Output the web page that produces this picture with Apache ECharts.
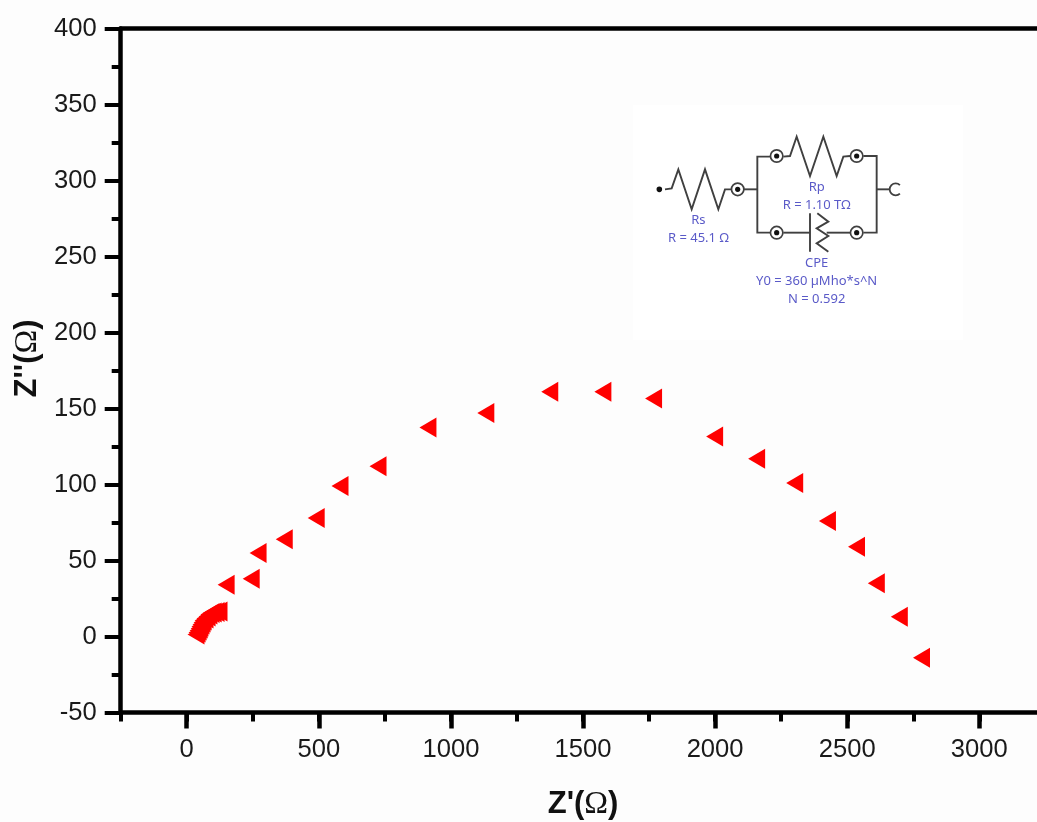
<!DOCTYPE html>
<html>
<head>
<meta charset="utf-8">
<style>html,body{margin:0;padding:0;background:#fdfdfd}#c{width:1037px;height:822px}</style>
<script src="https://cdn.jsdelivr.net/npm/echarts@6/dist/echarts.min.js"></script>
</head>
<body>
<div id="c"></div>
<script>
var zReal = [35,39,43,47,50,54,58,62,69,77,84,92,100,111,122,149,244,270,369,490,580,724,913,1132,1374,1575,1767,1998,2157,2301,2425,2535,2610,2697,2781];
var zImag = [1.3,2.6,4,5.3,6.6,7.9,9.2,10.5,11.8,13.2,14.5,15.5,15.8,16.1,16.4,34,38,55,64,78,99,112,137.5,147,161,161,156.5,131.5,117,101,76,59,35,13,-14];
var insetLabels = [
  ['Rs',205,362],['R = 45.1 Ω',205,415],['Rp',560,263],['R = 1.10 TΩ',560,315],
  ['CPE',560,490],['Y0 = 360 µMho*s^N',560,545],['N = 0.592',560,597]
];
var insetWires = [
  [[105,268],[125,265],[145,208],[185,328],[225,208],[265,328],[285,268],[305,268]],
  [[342,268],[382,268]],
  [[420,170],[382,170],[382,398],[420,398]],
  [[460,170],[480,168],[500,110],[540,228],[580,110],[620,228],[640,170],[660,168]],
  [[700,168],[740,168],[740,398],[700,398]],
  [[660,398],[590,398]],
  [[460,398],[540,398]],
  [[540,340],[540,455]],
  [[562,340],[595,365],[560,385],[595,408],[560,430],[595,455]],
  [[740,268],[778,268]]
];
var insetNodes = [[323,268],[440,168],[680,168],[440,398],[680,398]];

function px(p){ return [630 + p[0]/3, 100 + p[1]/3]; }
var ink = '#404040', blue = '#5a5ac8';
var graphics = [{type:'rect', shape:{x:633,y:105,width:330,height:235}, style:{fill:'#ffffff'}, silent:true}];
insetWires.forEach(function(w){
  graphics.push({type:'polyline', shape:{points:w.map(px)}, style:{stroke:ink,lineWidth:1.9,fill:null}, silent:true});
});
insetNodes.forEach(function(n){
  var c = px(n);
  graphics.push({type:'circle', shape:{cx:c[0],cy:c[1],r:6.2}, style:{stroke:ink,lineWidth:1.7,fill:'#fff'}, silent:true});
  graphics.push({type:'circle', shape:{cx:c[0],cy:c[1],r:2.6}, style:{fill:'#111'}, silent:true});
});
var d = px([88,268]);
graphics.push({type:'circle', shape:{cx:d[0],cy:d[1],r:2.8}, style:{fill:'#111'}, silent:true});
var a = px([797,268]);
graphics.push({type:'arc', shape:{cx:a[0],cy:a[1],r:6,startAngle:Math.PI/4,endAngle:Math.PI*7/4,clockwise:true}, style:{stroke:ink,lineWidth:1.8,fill:null}, silent:true});
insetLabels.forEach(function(t){
  var c = px([t[1],t[2]]);
  graphics.push({type:'text', x:c[0], y:c[1], style:{text:t[0],fill:blue,font:'13px "Noto Sans", sans-serif',align:'center',verticalAlign:'middle'}, silent:true});
});

var labelFont = {color:'#1a1a1a',fontFamily:'"Liberation Sans", Arial, sans-serif',fontSize:25.6};
function nameStyle(pad){
  return {
    color:'#111',
    padding:pad,
    rich:{
      a:{fontFamily:'"Liberation Sans", Arial, sans-serif',fontWeight:'bold',fontSize:31,color:'#111'},
      b:{fontFamily:'"Liberation Serif", serif',fontWeight:'normal',fontSize:32,color:'#111'}
    }
  };
}
var plain = function(v){ return String(v); };
var line = {show:true,onZero:false,lineStyle:{color:'#000',width:4.5}};
var xStep = 0.2642, xEnd = 3500;
var chart = echarts.init(document.getElementById('c'));
chart.setOption({
  animation:false,
  backgroundColor:'#fdfdfd',
  grid:[
    {left:120.7,width:(xEnd+250)*xStep,top:28.5,bottom:109.5,outerBoundsMode:'none'},
    {left:186.7,width:xEnd*xStep,top:28.5,bottom:109.5,outerBoundsMode:'none'}
  ],
  xAxis:[
    {type:'value',gridIndex:0,position:'bottom',min:-250,max:xEnd,interval:250,axisLine:line,splitLine:{show:false},
     axisTick:{show:true,length:9,lineStyle:{color:'#000',width:4}},
     axisLabel:{show:false},
     name:"{a|Z'(}{b|Ω}{a|)}",nameLocation:'middle',nameGap:76,nameTextStyle:nameStyle([0,66,0,0])},
    {type:'value',gridIndex:1,position:'bottom',min:0,max:xEnd,interval:500,axisLine:{show:false,onZero:false},splitLine:{show:false},
     axisTick:{show:true,length:16,lineStyle:{color:'#000',width:4.5}},
     axisLabel:Object.assign({show:true,margin:24,formatter:plain},labelFont)},
    {type:'value',gridIndex:0,position:'top',min:-250,max:xEnd,axisLine:line,splitLine:{show:false},axisTick:{show:false},axisLabel:{show:false}}
  ],
  yAxis:[
    {type:'value',gridIndex:0,min:-50,max:400,interval:50,axisLine:line,splitLine:{show:false},
     axisTick:{show:true,length:16,lineStyle:{color:'#000',width:4}},
     minorTick:{show:true,splitNumber:2,length:9,lineStyle:{color:'#000',width:4}},
     axisLabel:Object.assign({margin:24,formatter:plain},labelFont),
     name:'{a|Z\'\'(}{b|Ω}{a|)}',nameLocation:'middle',nameGap:77,nameRotate:90,nameTextStyle:nameStyle([0,0,0,24])},
    {type:'value',gridIndex:1,min:-50,max:400,show:false}
  ],
  series:[{
    type:'scatter',xAxisIndex:0,yAxisIndex:0,
    symbol:'triangle',symbolRotate:90,symbolSize:[20,17],
    itemStyle:{color:'#ff0000',opacity:1},
    data:zReal.map(function(v,i){return [v,zImag[i]];}),
    clip:false
  }],
  graphic:graphics
});
</script>
</body>
</html>
